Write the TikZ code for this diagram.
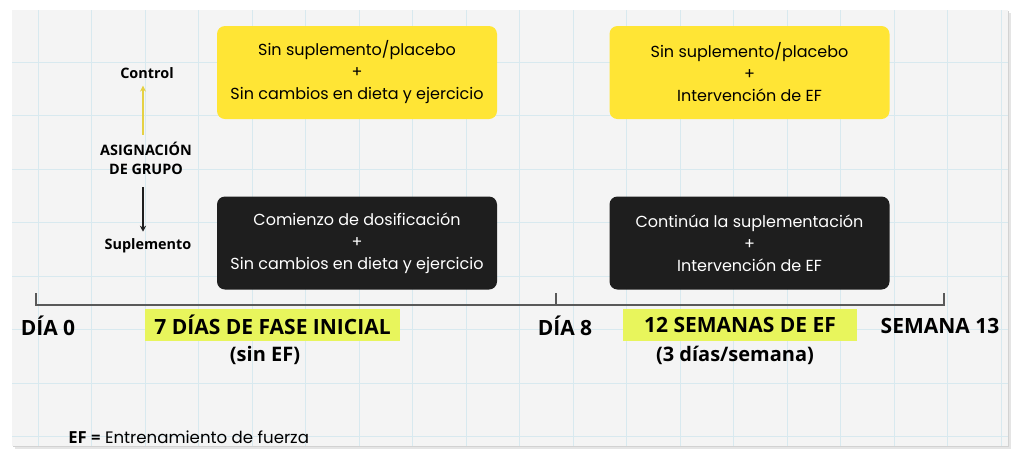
\documentclass[tikz,border=0pt]{standalone}
\usepackage{fontspec}
\setmainfont{Poppins}
\newfontfamily\labelfont{Open Sans}
\usetikzlibrary{positioning,arrows.meta}
\definecolor{boxyellow}{HTML}{FFE535}
\definecolor{boxblack}{HTML}{1E1E1E}
\definecolor{marker}{HTML}{E8F55C}
\definecolor{gridblue}{HTML}{D8E9EF}
\definecolor{paper}{HTML}{F4F4F4}
\tikzset{
    phasebox/.style={rounded corners=4pt, minimum width=140pt, minimum height=46.5pt,
        align=center, font=\fontsize{8}{11}\selectfont, inner sep=0pt},
    ctrlbox/.style={phasebox, fill=boxyellow, text=black},
    suplbox/.style={phasebox, fill=boxblack, text=white},
    grouplabel/.style={font=\labelfont\bfseries\fontsize{7.2}{9.5}\selectfont, align=center},
    timelabel/.style={font=\labelfont\bfseries\fontsize{10.5}{12}\selectfont, inner sep=0pt},
    sublabel/.style={font=\labelfont\bfseries\fontsize{10}{12}\selectfont, inner sep=0pt},
    highlight/.style={fill=marker, inner xsep=0pt, minimum height=16pt, text depth=0pt},
}
\begin{document}
\begin{tikzpicture}[x=0.5pt, y=-0.5pt]
    \useasboundingbox (0,0) rectangle (1024,457);
    % paper card
    \fill[white] (0,0) rectangle (1024,457);
    \fill[gray!20] (15,13) rectangle (1011,449);
    \fill[gray!35] (13,11) rectangle (1009,447);
    \fill[paper] (12,10) rectangle (1008,446);
    % grid
    \begin{scope}
        \clip (12,10) rectangle (1008,446);
        \foreach \x in {38, 91, 145, 198, 252, 305, 359, 412, 466, 519, 573, 626, 680, 733, 787, 840, 894, 947, 1001} {
            \draw[gridblue, line width=0.4pt] (\x,10) -- (\x,446);
        }
        \foreach \y in {62, 115, 169, 222, 276, 329, 383, 436} {
            \draw[gridblue, line width=0.4pt] (12,\y) -- (1008,\y);
        }
    \end{scope}
    % phase boxes
    \node[ctrlbox] (ctrlinicial) at (357,72.5) {Sin suplemento/placebo\\+\\Sin cambios en dieta y ejercicio};
    \node[ctrlbox] (ctrlef) at (749.5,72.5) {Sin suplemento/placebo\\+\\Intervención de EF};
    \node[suplbox] (suplinicial) at (357,243) {Comienzo de dosificación\\+\\Sin cambios en dieta y ejercicio};
    \node[suplbox] (suplef) at (749.5,243) {Continúa la suplementación\\+\\Intervención de EF};
    % group assignment
    \node[grouplabel] (control) at (147,73) {Control};
    \node[grouplabel] (asignacion) at (146,158) {ASIGNACIÓN\\DE GRUPO};
    \node[grouplabel] (suplemento) at (148,246) {Suplemento};
    \draw[-{Stealth[length=3pt,width=3pt]}, boxyellow!80!gray, line width=0.8pt] (asignacion.north -| 143,0) -- (control.south -| 143,0);
    \draw[-{Stealth[length=3pt,width=3pt]}, boxblack, line width=0.6pt] (asignacion.south -| 143,0) ++(0,6) -- (suplemento.north -| 143,0);
    % timeline
    \coordinate (dia0) at (36,305);
    \coordinate (dia8) at (556,305);
    \coordinate (sem13) at (944,305);
    \draw[gray!70!black, line width=0.7pt] (dia0) ++(0,-12) -- (dia0) -- (sem13) -- ++(0,-12);
    \draw[gray!70!black, line width=0.7pt] (dia8) -- ++(0,-12);
    % time labels
    \node[timelabel] (tdia0) at (48,326) {DÍA 0};
    \node[timelabel] (tdia8) at (565,326) {DÍA 8};
    \node[timelabel] (tsem13) at (940,326) {SEMANA 13};
    \node[timelabel, highlight, minimum width=127.5pt] (fase) at (272.5,325) {7 DÍAS DE FASE INICIAL};
    \node[sublabel] (sinef) at (265,355) {(sin EF)};
    \node[timelabel, highlight, minimum width=117pt] (semanas) at (740,325) {12 SEMANAS DE EF};
    \node[sublabel] (dias) at (735,355) {(3 días/semana)};
    % legend
    \node[anchor=west, inner sep=0pt, font=\fontsize{8.3}{10}\selectfont] (leyenda) at (68,437) {\labelfont\bfseries EF =\normalfont\ Entrenamiento de fuerza};
\end{tikzpicture}
\end{document}
